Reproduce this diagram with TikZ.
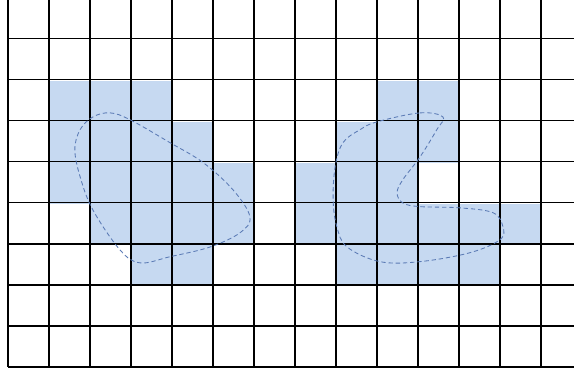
\documentclass[tikz,border=0pt]{standalone}
\usepackage{tikz}
\definecolor{cellblue}{HTML}{C6D9F1}
\definecolor{curveblue}{HTML}{5B7BB5}
\begin{document}
\begin{tikzpicture}[x=1cm,y=0.994cm]
    % grille : 14 colonnes (x) et 9 lignes (y), coupee en haut et a droite
    \def\rows{9}
    \def\cols{14}
    \useasboundingbox (-0.195,-0.123) rectangle (13.805,9);
    \clip (-0.195,-0.123) rectangle (13.805,8.985);

    % cases coloriees, forme de gauche
    \begin{scope}[fill=cellblue]
    \fill (1,6) rectangle (4,7);
    \fill (1,5) rectangle (5,6);
    \fill (1,4) rectangle (6,5);
    \fill (2,3) rectangle (6,4);
    \fill (3,2) rectangle (5,3);
    \end{scope}

    % cases coloriees, forme de droite
    \begin{scope}[fill=cellblue]
    \fill (9,6) rectangle (11,7);
    \fill (8,5) rectangle (11,6);
    \fill (7,4) rectangle (10,5);
    \fill (7,3) rectangle (13,4);
    \fill (8,2) rectangle (12,3);
    \end{scope}

    % la grille noire
    \draw[black, line width=1pt] (0,0) grid (\cols,\rows);

    % contour de gauche
    \draw[curveblue, densely dashed, line width=0.6pt] plot[smooth cycle, tension=0.6] coordinates {
      (2.49,6.23) (2.98,6.06) (3.95,5.50) (4.76,5.01) (5.49,4.34) (5.90,3.68)
      (5.66,3.29) (4.93,2.94) (3.95,2.70) (3.22,2.55) (2.73,2.87) (2.07,3.85)
      (1.76,4.66) (1.63,5.33) (1.76,5.82) (2.07,6.13)};

    % contour de droite
    \draw[curveblue, densely dashed, line width=0.6pt] plot[smooth cycle, tension=0.6] coordinates {
      (9.00,6.01) (10.05,6.23) (10.61,6.13) (10.46,5.82) (10.05,5.15) (9.63,4.59)
      (9.49,4.27) (9.63,4.02) (10.05,3.93) (11.02,3.90) (11.83,3.78) (12.07,3.44)
      (12.00,3.12) (11.27,2.80) (10.05,2.58) (9.07,2.58) (8.27,2.94) (8.02,3.44)
      (7.93,4.10) (7.98,4.91) (8.17,5.50) (8.59,5.82)};
\end{tikzpicture}
\end{document}
